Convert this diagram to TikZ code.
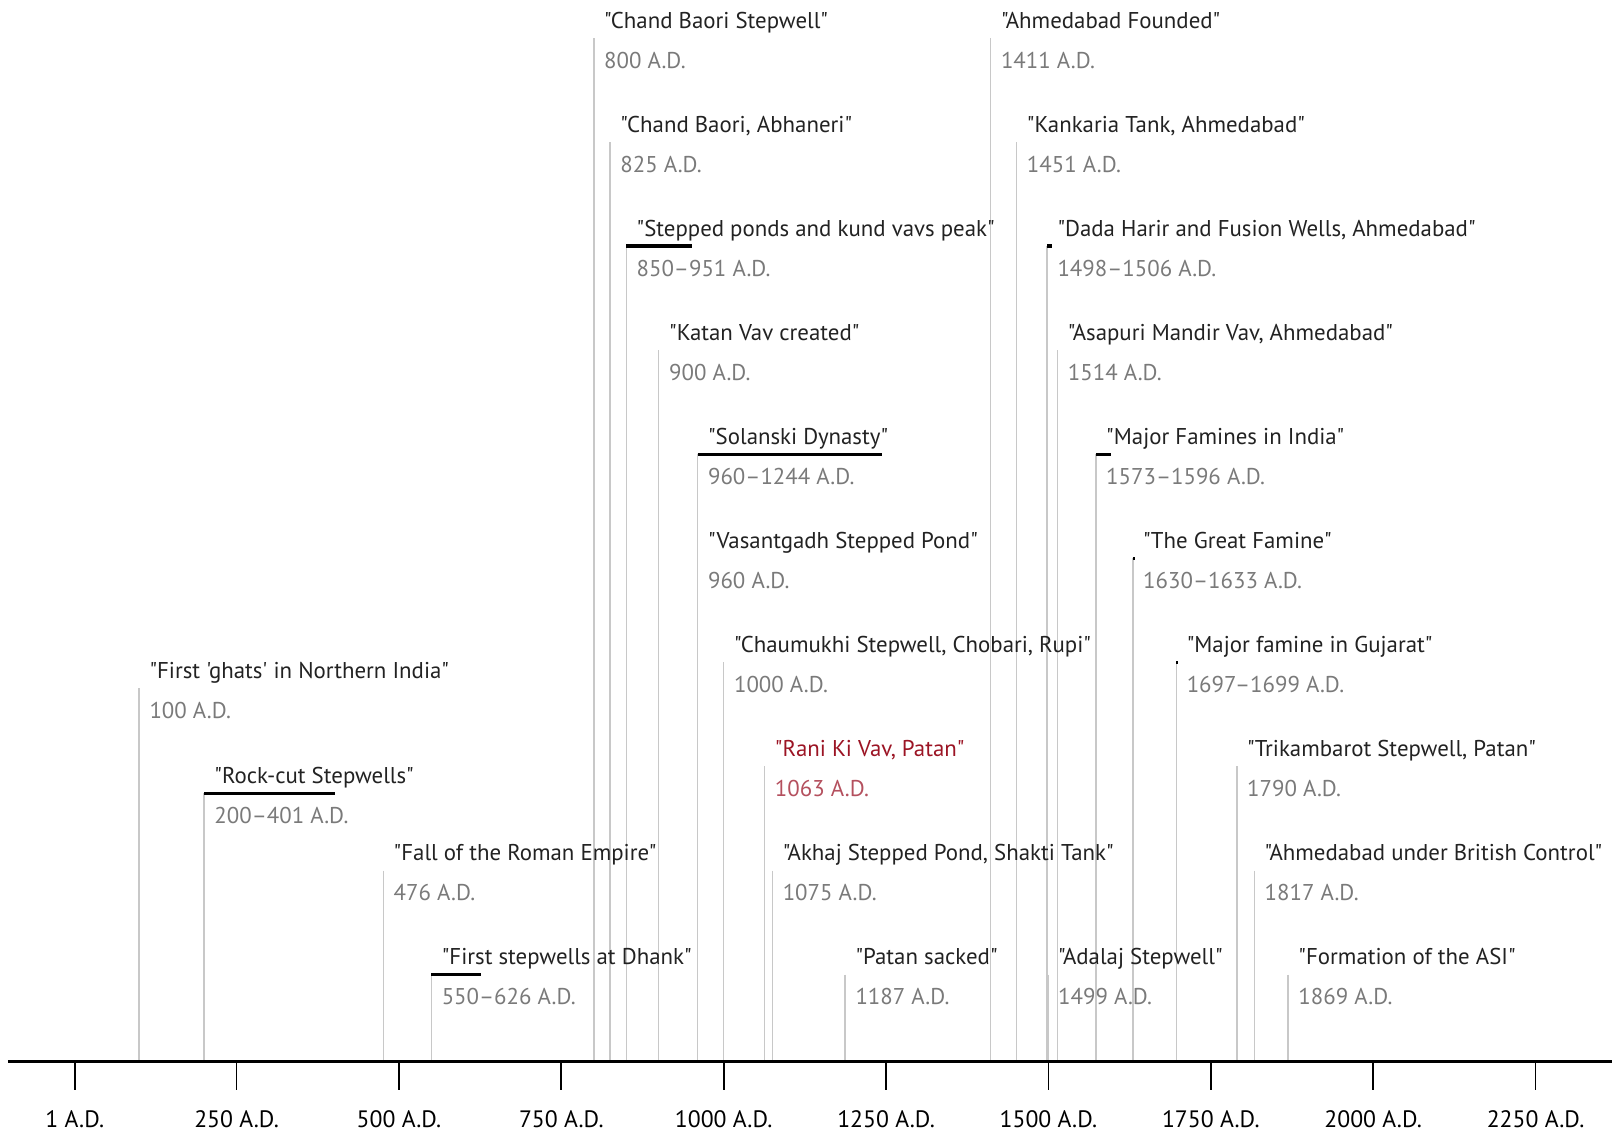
\documentclass[tikz,border=0pt]{standalone}
\usepackage{fontspec}
\setmainfont{PT Sans}[Ligatures=TeXOff]
\usepackage{xcolor}
\usetikzlibrary{positioning}

\definecolor{evink}{HTML}{222222}
\definecolor{dateink}{HTML}{7A7A7A}
\definecolor{stemgray}{HTML}{C8C8C8}
\definecolor{ranired}{HTML}{9B1424}
\definecolor{ranidate}{HTML}{B4505E}

\begin{document}
\begin{tikzpicture}[
    x=0.01299cm, y=-0.02cm,
    evtitle/.style={anchor=base west, inner sep=0pt, xshift=0.2cm, yshift=0.2cm, text=evink, font=\fontsize{13}{15}\selectfont},
    evdate/.style={anchor=base west, inner sep=0pt, xshift=0.2cm, yshift=-0.6cm, text=dateink, font=\fontsize{13}{15}\selectfont},
    stemline/.style={draw=stemgray, line width=0.8pt},
    spanbar/.style={draw=black, line width=2pt},
    axisline/.style={draw=black, line width=2pt},
    tickmark/.style={draw=black, line width=1pt},
    ticklbl/.style={anchor=base, inner sep=0pt, text=black, font=\fontsize{13.5}{15}\selectfont}
]
\useasboundingbox (-114.24,0) rectangle (2367.7,1135);

% axis
\coordinate (axL) at (-102,1061);
\coordinate (axR) at (2367.7,1061);

% events: stem tops
\coordinate (baori) at (800,38);
\coordinate (ahmfound) at (1411,38);
\coordinate (abhaneri) at (825,142);
\coordinate (kankaria) at (1451,142);
\coordinate (kund) at (850,246);
\coordinate (kundE) at (951,246);
\coordinate (dada) at (1498,246);
\coordinate (dadaE) at (1506,246);
\coordinate (katan) at (900,350);
\coordinate (asapuri) at (1514,350);
\coordinate (solanki) at (960,454);
\coordinate (solankiE) at (1244,454);
\coordinate (famines) at (1573,454);
\coordinate (faminesE) at (1596,454);
\coordinate (vasant) at (960,558);
\coordinate (greatfam) at (1630,558);
\coordinate (greatfamE) at (1633,558);
\coordinate (chaumukhi) at (1000,662);
\coordinate (gujfam) at (1697,662);
\coordinate (gujfamE) at (1699,662);
\coordinate (ghats) at (100,688);
\coordinate (rani) at (1063,766);
\coordinate (trikam) at (1790,766);
\coordinate (rockcut) at (200,793);
\coordinate (rockcutE) at (401,793);
\coordinate (rome) at (476,870);
\coordinate (akhaj) at (1075,870);
\coordinate (british) at (1817,870);
\coordinate (dhank) at (550,974);
\coordinate (dhankE) at (626,974);
\coordinate (patan) at (1187,974);
\coordinate (adalaj) at (1499,974);
\coordinate (asi) at (1869,974);

% stems down to the axis
\draw[stemline] (baori) -- (baori |- axL);
\draw[stemline] (ahmfound) -- (ahmfound |- axL);
\draw[stemline] (abhaneri) -- (abhaneri |- axL);
\draw[stemline] (kankaria) -- (kankaria |- axL);
\draw[stemline] (kund) -- (kund |- axL);
\draw[stemline] (dada) -- (dada |- axL);
\draw[stemline] (katan) -- (katan |- axL);
\draw[stemline] (asapuri) -- (asapuri |- axL);
\draw[stemline] (solanki) -- (solanki |- axL);
\draw[stemline] (famines) -- (famines |- axL);
\draw[stemline] (vasant) -- (vasant |- axL);
\draw[stemline] (greatfam) -- (greatfam |- axL);
\draw[stemline] (chaumukhi) -- (chaumukhi |- axL);
\draw[stemline] (gujfam) -- (gujfam |- axL);
\draw[stemline] (ghats) -- (ghats |- axL);
\draw[stemline] (rani) -- (rani |- axL);
\draw[stemline] (trikam) -- (trikam |- axL);
\draw[stemline] (rockcut) -- (rockcut |- axL);
\draw[stemline] (rome) -- (rome |- axL);
\draw[stemline] (akhaj) -- (akhaj |- axL);
\draw[stemline] (british) -- (british |- axL);
\draw[stemline] (dhank) -- (dhank |- axL);
\draw[stemline] (patan) -- (patan |- axL);
\draw[stemline] (adalaj) -- (adalaj |- axL);
\draw[stemline] (asi) -- (asi |- axL);

% spans
\draw[spanbar] (kund) -- (kundE);
\draw[spanbar] (dada) -- (dadaE);
\draw[spanbar] (solanki) -- (solankiE);
\draw[spanbar] (famines) -- (faminesE);
\draw[spanbar] (greatfam) -- (greatfamE);
\draw[spanbar] (gujfam) -- (gujfamE);
\draw[spanbar] (rockcut) -- (rockcutE);
\draw[spanbar] (dhank) -- (dhankE);

% labels
\node[evtitle] (baoriT) at (baori) {"Chand Baori Stepwell"};
\node[evdate] (baoriD) at (baori) {800 A.D.};
\node[evtitle] (ahmfoundT) at (ahmfound) {"Ahmedabad Founded"};
\node[evdate] (ahmfoundD) at (ahmfound) {1411 A.D.};
\node[evtitle] (abhaneriT) at (abhaneri) {"Chand Baori, Abhaneri"};
\node[evdate] (abhaneriD) at (abhaneri) {825 A.D.};
\node[evtitle] (kankariaT) at (kankaria) {"Kankaria Tank, Ahmedabad"};
\node[evdate] (kankariaD) at (kankaria) {1451 A.D.};
\node[evtitle] (kundT) at (kund) {"Stepped ponds and kund vavs peak"};
\node[evdate] (kundD) at (kund) {850–951 A.D.};
\node[evtitle] (dadaT) at (dada) {"Dada Harir and Fusion Wells, Ahmedabad"};
\node[evdate] (dadaD) at (dada) {1498–1506 A.D.};
\node[evtitle] (katanT) at (katan) {"Katan Vav created"};
\node[evdate] (katanD) at (katan) {900 A.D.};
\node[evtitle] (asapuriT) at (asapuri) {"Asapuri Mandir Vav, Ahmedabad"};
\node[evdate] (asapuriD) at (asapuri) {1514 A.D.};
\node[evtitle] (solankiT) at (solanki) {"Solanski Dynasty"};
\node[evdate] (solankiD) at (solanki) {960–1244 A.D.};
\node[evtitle] (faminesT) at (famines) {"Major Famines in India"};
\node[evdate] (faminesD) at (famines) {1573–1596 A.D.};
\node[evtitle] (vasantT) at (vasant) {"Vasantgadh Stepped Pond"};
\node[evdate] (vasantD) at (vasant) {960 A.D.};
\node[evtitle] (greatfamT) at (greatfam) {"The Great Famine"};
\node[evdate] (greatfamD) at (greatfam) {1630–1633 A.D.};
\node[evtitle] (chaumukhiT) at (chaumukhi) {"Chaumukhi Stepwell, Chobari, Rupi"};
\node[evdate] (chaumukhiD) at (chaumukhi) {1000 A.D.};
\node[evtitle] (gujfamT) at (gujfam) {"Major famine in Gujarat"};
\node[evdate] (gujfamD) at (gujfam) {1697–1699 A.D.};
\node[evtitle] (ghatsT) at (ghats) {"First 'ghats' in Northern India"};
\node[evdate] (ghatsD) at (ghats) {100 A.D.};
\node[evtitle, text=ranired] (raniT) at (rani) {"Rani Ki Vav, Patan"};
\node[evdate, text=ranidate] (raniD) at (rani) {1063 A.D.};
\node[evtitle] (trikamT) at (trikam) {"Trikambarot Stepwell, Patan"};
\node[evdate] (trikamD) at (trikam) {1790 A.D.};
\node[evtitle] (rockcutT) at (rockcut) {"Rock-cut Stepwells"};
\node[evdate] (rockcutD) at (rockcut) {200–401 A.D.};
\node[evtitle] (romeT) at (rome) {"Fall of the Roman Empire"};
\node[evdate] (romeD) at (rome) {476 A.D.};
\node[evtitle] (akhajT) at (akhaj) {"Akhaj Stepped Pond, Shakti Tank"};
\node[evdate] (akhajD) at (akhaj) {1075 A.D.};
\node[evtitle] (britishT) at (british) {"Ahmedabad under British Control"};
\node[evdate] (britishD) at (british) {1817 A.D.};
\node[evtitle] (dhankT) at (dhank) {"First stepwells at Dhank"};
\node[evdate] (dhankD) at (dhank) {550–626 A.D.};
\node[evtitle] (patanT) at (patan) {"Patan sacked"};
\node[evdate] (patanD) at (patan) {1187 A.D.};
\node[evtitle] (adalajT) at (adalaj) {"Adalaj Stepwell"};
\node[evdate] (adalajD) at (adalaj) {1499 A.D.};
\node[evtitle] (asiT) at (asi) {"Formation of the ASI"};
\node[evdate] (asiD) at (asi) {1869 A.D.};

% time axis
\draw[axisline] (axL) -- (axR);
\coordinate (k1) at (1,1061);
\coordinate (k250) at (250,1061);
\coordinate (k500) at (500,1061);
\coordinate (k750) at (750,1061);
\coordinate (k1000) at (1000,1061);
\coordinate (k1250) at (1250,1061);
\coordinate (k1500) at (1500,1061);
\coordinate (k1750) at (1750,1061);
\coordinate (k2000) at (2000,1061);
\coordinate (k2250) at (2250,1061);
\draw[tickmark] (k1) -- ++(0,28);
\draw[tickmark] (k250) -- ++(0,28);
\draw[tickmark] (k500) -- ++(0,28);
\draw[tickmark] (k750) -- ++(0,28);
\draw[tickmark] (k1000) -- ++(0,28);
\draw[tickmark] (k1250) -- ++(0,28);
\draw[tickmark] (k1500) -- ++(0,28);
\draw[tickmark] (k1750) -- ++(0,28);
\draw[tickmark] (k2000) -- ++(0,28);
\draw[tickmark] (k2250) -- ++(0,28);
\node[ticklbl] (l1) at (1,1127) {1 A.D.};
\node[ticklbl] (l250) at (250,1127) {250 A.D.};
\node[ticklbl] (l500) at (500,1127) {500 A.D.};
\node[ticklbl] (l750) at (750,1127) {750 A.D.};
\node[ticklbl] (l1000) at (1000,1127) {1000 A.D.};
\node[ticklbl] (l1250) at (1250,1127) {1250 A.D.};
\node[ticklbl] (l1500) at (1500,1127) {1500 A.D.};
\node[ticklbl] (l1750) at (1750,1127) {1750 A.D.};
\node[ticklbl] (l2000) at (2000,1127) {2000 A.D.};
\node[ticklbl] (l2250) at (2250,1127) {2250 A.D.};

\end{tikzpicture}
\end{document}
